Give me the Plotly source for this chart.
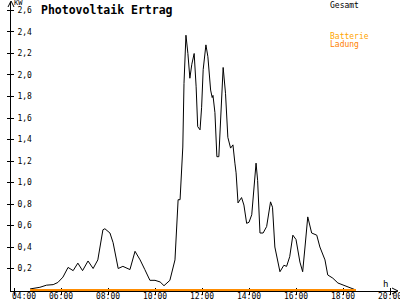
import plotly.graph_objects as go

# ---------------- data ----------------
times = ["04:41", "05:06", "05:23", "05:40", "05:52", "06:05", "06:18", "06:31", "06:43", "06:55",
         "07:09", "07:22", "07:34", "07:47", "07:52", "08:05", "08:13", "08:26", "08:38", "08:56",
         "09:09", "09:22", "09:34", "09:47", "10:00", "10:13", "10:23", "10:38", "10:51", "10:59",
         "11:04", "11:11", "11:14", "11:19", "11:24", "11:29", "11:34", "11:40", "11:45", "11:49",
         "11:55", "11:59", "12:03", "12:10", "12:15", "12:22", "12:26", "12:28", "12:33", "12:38",
         "12:43", "12:48", "12:54", "13:00", "13:06", "13:13", "13:19", "13:24", "13:27", "13:32",
         "13:41", "13:47", "13:54", "14:00", "14:07", "14:18", "14:22", "14:28", "14:36", "14:45",
         "14:55", "15:00", "15:06", "15:19", "15:29", "15:36", "15:44", "15:52", "16:00", "16:10",
         "16:17", "16:23", "16:30", "16:40", "16:53", "17:01", "17:14", "17:21", "17:34", "17:47",
         "18:00", "18:13", "18:33"]
gesamt = [0.01, 0.025, 0.045, 0.05, 0.07, 0.12, 0.21, 0.18, 0.25, 0.18,
          0.27, 0.20, 0.28, 0.56, 0.57, 0.53, 0.44, 0.20, 0.22, 0.19,
          0.36, 0.28, 0.19, 0.09, 0.09, 0.075, 0.04, 0.09, 0.28, 0.84,
          0.84, 1.33, 1.92, 2.37, 2.20, 1.97, 2.10, 2.20, 1.89, 1.52,
          1.49, 1.70, 2.05, 2.28, 2.17, 1.86, 1.79, 1.81, 1.65, 1.24,
          1.24, 1.65, 2.07, 1.83, 1.42, 1.32, 1.35, 1.18, 1.09, 0.81,
          0.86, 0.79, 0.62, 0.63, 0.70, 1.18, 1.02, 0.53, 0.53, 0.59,
          0.82, 0.77, 0.40, 0.17, 0.23, 0.22, 0.31, 0.51, 0.47, 0.26,
          0.17, 0.40, 0.68, 0.53, 0.51, 0.40, 0.28, 0.14, 0.11, 0.065,
          0.045, 0.03, 0.0]
ladung_times = ["04:41", "18:33"]
ladung = [0.0, 0.0]
x_ticks = ["04:00", "06:00", "08:00", "10:00", "12:00", "14:00", "16:00", "18:00", "20:00"]
y_ticks = [0.2, 0.4, 0.6, 0.8, 1.0, 1.2, 1.4, 1.6, 1.8, 2.0, 2.2, 2.4, 2.6]


def hours(s):
    hh, mm = s.split(":")
    return int(hh) + int(mm) / 60


W, H = 400, 300
FONT = "DejaVu Sans Mono"
ORANGE = "#ff8c00"


def px(x):
    return x / W


def py(y):
    return 1 - y / H


x_range = [3.872, 20.298]
y_range = [-0.0093, 2.679]
x_dom = [px(11), px(397)]
y_dom = [py(291), py(2)]

fig = go.Figure()
fig.add_trace(go.Scatter(x=[hours(t) for t in times], y=gesamt, mode="lines",
                         line=dict(color="black", width=1), showlegend=False,
                         hoverinfo="skip"))
fig.add_trace(go.Scatter(x=[hours(t) for t in ladung_times], y=ladung, mode="lines",
                         line=dict(color=ORANGE, width=2), showlegend=False,
                         hoverinfo="skip"))
# invisible trace for the overlay axes (other tick halves)
fig.add_trace(go.Scatter(x=[hours(x_ticks[0])], y=[y_ticks[0]], xaxis="x2", yaxis="y2",
                         mode="markers", marker=dict(opacity=0), showlegend=False,
                         hoverinfo="skip"))

tickfont = dict(family=FONT, size=8, color="black")
# first label is drawn separately, shifted right of the vertical axis as in the original
xtext = [""] + x_ticks[1:]
fig.update_layout(
    width=W, height=H,
    margin=dict(l=0, r=0, t=0, b=0, autoexpand=False),
    paper_bgcolor="white", plot_bgcolor="white",
    separators=",.",
    xaxis=dict(domain=x_dom, range=x_range, showgrid=False, zeroline=False,
               showline=True, linecolor="black", linewidth=1, automargin=False,
               tickvals=[hours(t) for t in x_ticks], ticktext=xtext,
               ticks="inside", ticklen=3, tickcolor="black", tickwidth=1,
               tickfont=tickfont, anchor="y", ticklabeloverflow="allow",
               ticklabelstandoff=-3, layer="below traces"),
    yaxis=dict(domain=y_dom, range=y_range, showgrid=False, zeroline=False,
               showline=True, linecolor="black", linewidth=1, automargin=False,
               tickvals=y_ticks, tickformat=".1f",
               ticks="outside", ticklen=3, tickcolor="black", tickwidth=1,
               ticklabelposition="inside", tickfont=tickfont, anchor="x",
               ticklabelstandoff=5, ticklabeloverflow="allow", layer="below traces"),
    xaxis2=dict(domain=x_dom, range=x_range, overlaying="x", anchor="y2",
                showgrid=False, zeroline=False, showline=False, automargin=False,
                tickvals=[hours(t) for t in x_ticks], showticklabels=False,
                ticks="outside", ticklen=3, tickcolor="black", tickwidth=1, side="bottom"),
    yaxis2=dict(domain=y_dom, range=y_range, overlaying="y", anchor="x2",
                showgrid=False, zeroline=False, showline=False, automargin=False,
                tickvals=y_ticks, showticklabels=False,
                ticks="inside", ticklen=3, tickcolor="black", tickwidth=1, side="left"),
)

# axis arrowheads
arrow = dict(type="path", xref="paper", yref="paper",
             line=dict(color="black", width=1))
fig.add_shape(path=f"M {px(8)} {py(7)} L {px(11)} {py(1)} L {px(14)} {py(7)}", **arrow)
fig.add_shape(path=f"M {px(392)} {py(288)} L {px(398)} {py(291)} L {px(392)} {py(294)}", **arrow)

fig.add_annotation(x=hours(x_ticks[0]), xref="x", y=py(296), yref="paper",
                   text=x_ticks[0], showarrow=False, xanchor="left", yanchor="middle",
                   xshift=-3, borderpad=0, font=tickfont)

ann = dict(xref="paper", yref="paper", showarrow=False, xanchor="left", yanchor="middle")
fig.add_annotation(x=px(39), y=py(10), text="<b>Photovoltaik Ertrag</b>",
                   font=dict(family=FONT, size=11.5, color="black"), **ann)
fig.add_annotation(x=px(12), y=py(3), text="KW",
                   font=dict(family=FONT, size=7, color="black"), **ann)
fig.add_annotation(x=px(381), y=py(284), text="h",
                   font=dict(family=FONT, size=9, color="black"), **ann)
fig.add_annotation(x=px(328), y=py(5), text="Gesamt",
                   font=dict(family=FONT, size=8, color="black"), **ann)
fig.add_annotation(x=px(328), y=py(36), text="Batterie",
                   font=dict(family=FONT, size=8, color="#ffa500"), **ann)
fig.add_annotation(x=px(328), y=py(44), text="Ladung",
                   font=dict(family=FONT, size=8, color="#ff8000"), **ann)

fig.write_html("out.html")
